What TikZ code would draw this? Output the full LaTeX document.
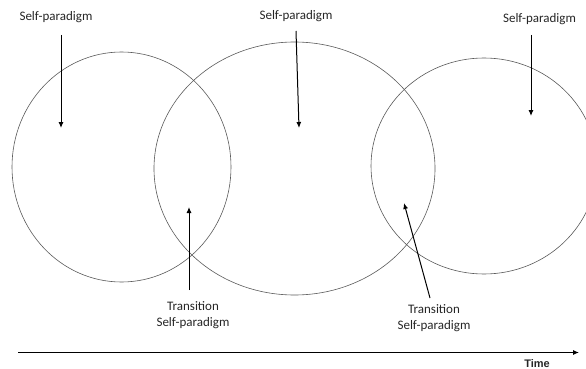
\documentclass[tikz,border=0pt]{standalone}
\usepackage{fontspec}
\setmainfont{Carlito}
\newfontfamily\timefont{Liberation Sans}
\usetikzlibrary{arrows.meta}
\tikzstyle{every path}=[line width=0.7pt]
\tikzstyle{phase}=[draw=black!65, line width=0.6pt]
\tikzstyle{pointer}=[-{Latex[length=6pt,width=5pt]}, line width=1pt]
\tikzstyle{ptext}=[font=\fontsize{13}{16}\selectfont, text=black!85, align=center, inner sep=0pt]

\begin{document}
\begin{tikzpicture}[x=1pt, y=-1pt]
            \useasboundingbox (0,0) rectangle (586,369);

            % the three paradigms
            \coordinate (first) at (121.5,167);
            \coordinate (second) at (294.5,168.5);
            \coordinate (third) at (484,166);
            \draw[phase] (first) ellipse [x radius=109.5, y radius=115];
            \draw[phase] (second) ellipse [x radius=140.5, y radius=126.5];
            \draw[phase] (third) ellipse [x radius=113, y radius=108];

            \node[ptext] (top1) at (56,17) {Self-paradigm};
            \node[ptext] (top2) at (296,16) {Self-paradigm};
            \node[ptext] (top3) at (539.5,19) {Self-paradigm};
            \node[ptext] (bottom1) at (193,315) {Transition\\Self-paradigm};
            \node[ptext] (bottom2) at (434,318) {Transition\\Self-paradigm};
            \node[ptext, font=\fontsize{11}{13}\selectfont\timefont\bfseries] (time) at (537,364) {Time};

            \coordinate (a1s) at (61,35);
            \coordinate (a1e) at (61,128);
            \coordinate (a2s) at (296,31);
            \coordinate (a2e) at (299,128);
            \coordinate (a3s) at (531,35);
            \coordinate (a3e) at (531,116);
            \coordinate (b1s) at (189,290);
            \coordinate (b1e) at (189,207);
            \coordinate (b2s) at (430,298);
            \coordinate (b2e) at (404,203);
            \draw[pointer] (a1s) -- (a1e);
            \draw[pointer] (a2s) -- (a2e);
            \draw[pointer] (a3s) -- (a3e);
            \draw[pointer] (b1s) -- (b1e);
            \draw[pointer] (b2s) -- (b2e);

            % time line
            \coordinate (t0) at (18,352.5);
            \coordinate (t1) at (579,352.5);
            \draw[pointer] (t0) -- (t1);
        \end{tikzpicture}
\end{document}
